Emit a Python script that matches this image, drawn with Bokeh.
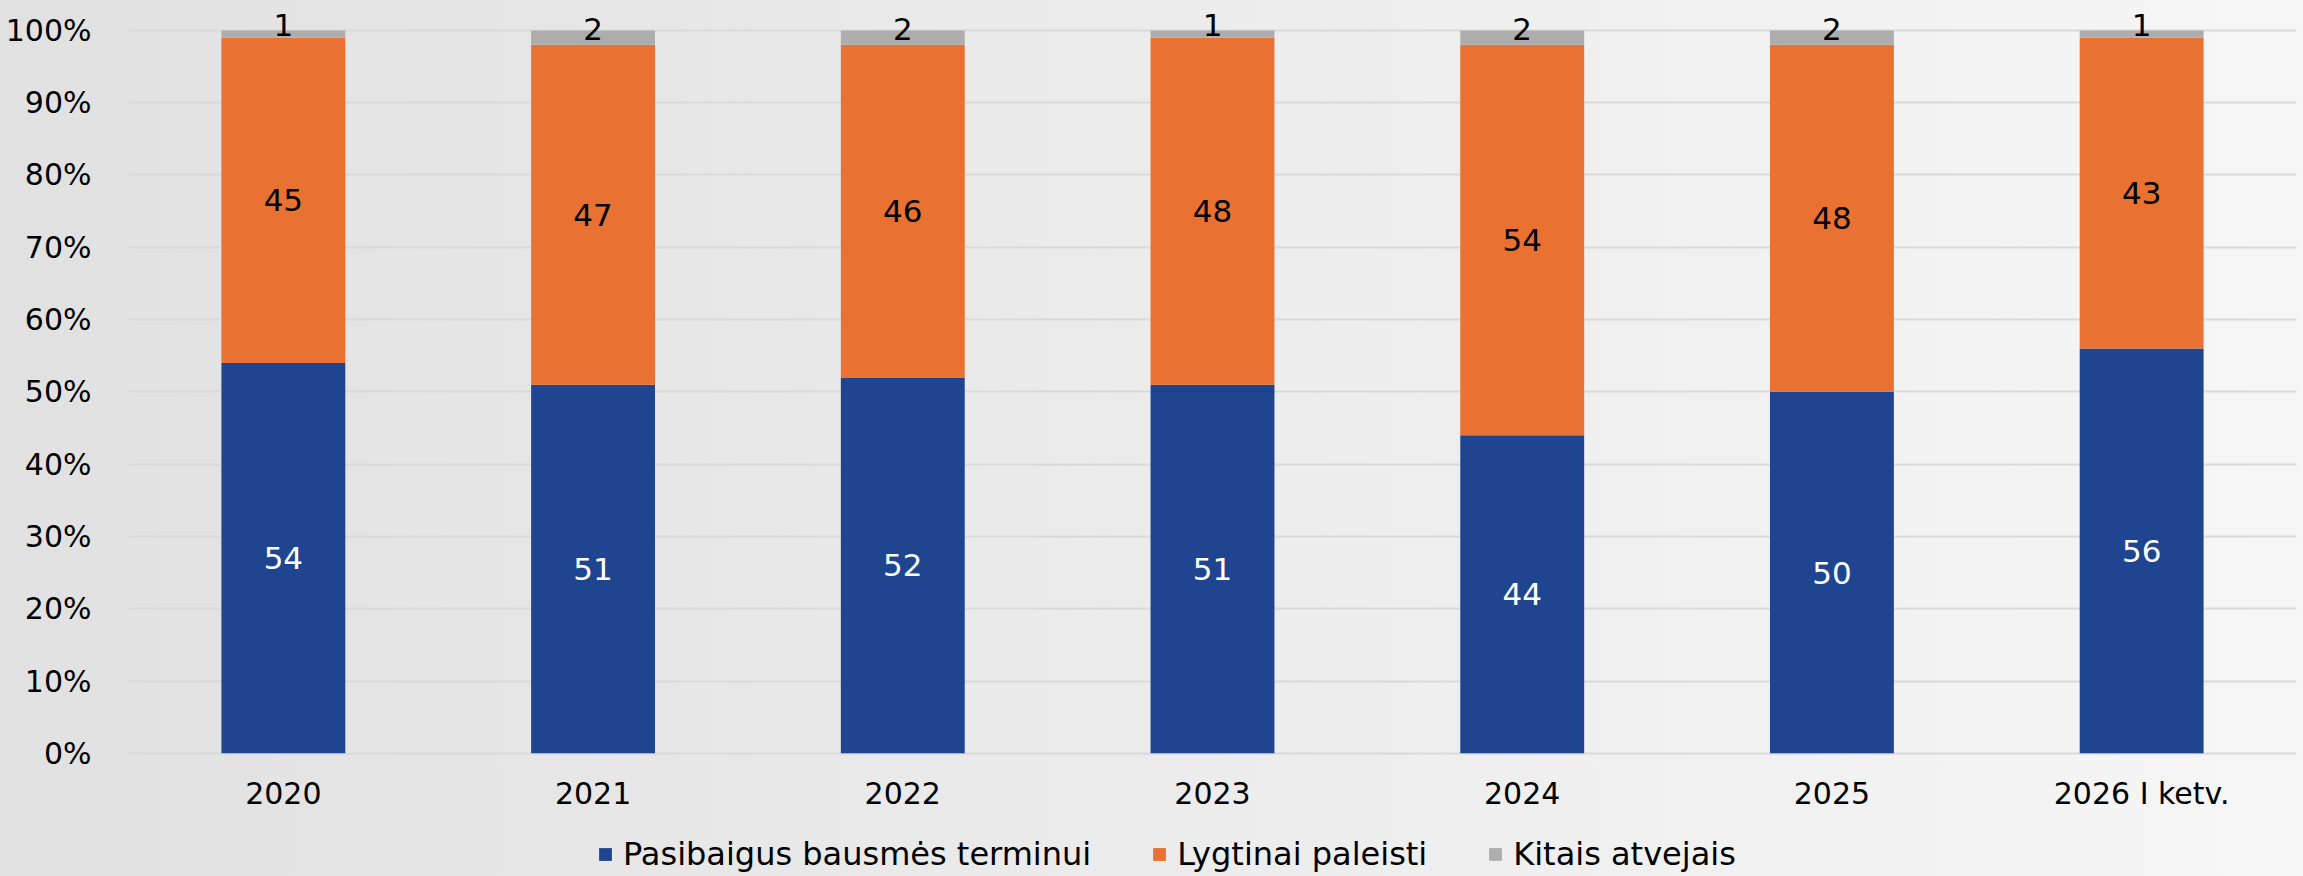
from bokeh.plotting import figure
from bokeh.models import ColumnDataSource, FactorRange, Range1d, LabelSet, Legend, LegendItem
from bokeh.embed import file_html
from bokeh.resources import INLINE
from bokeh.core.properties import value

categories = ["2020", "2021", "2022", "2023", "2024", "2025", "2026 I ketv."]
pasibaigus = [54, 51, 52, 51, 44, 50, 56]
lygtinai = [45, 47, 46, 48, 54, 48, 43]
kitais = [1, 2, 2, 1, 2, 2, 1]
series_names = ["Pasibaigus bausmės terminui", "Lygtinai paleisti", "Kitais atvejais"]
series_colors = ["#1F4590", "#E97132", "#ADADAD"]
label_colors = ["white", "black", "black"]
label_offsets = [0, 0, 9]
y_ticks = [0, 10, 20, 30, 40, 50, 60, 70, 80, 90, 100]
y_tick_labels = [f"{t}%" for t in y_ticks]

FONT = "DejaVu Sans"

series = [pasibaigus, lygtinai, kitais]
keys = ["s0", "s1", "s2"]
data = {"cat": categories}
for k, s in zip(keys, series):
    data[k] = s
src = ColumnDataSource(data)

# frame spans the full height so that the category labels and legend
# (drawn inside it, below the zero line) are not clipped
p = figure(
    width=2300, height=876,
    x_range=FactorRange(*categories), y_range=Range1d(-16.9, 104),
    output_backend="svg", toolbar_location=None,
    min_border_left=128, min_border_right=4, min_border_top=1, min_border_bottom=1,
    background_fill_color=None, border_fill_color=None, outline_line_color=None,
)
p.xaxis.visible = False

renderers = p.vbar_stack(keys, x="cat", width=0.4, color=series_colors, line_color=None, source=src)

# data labels, centred in each segment
bottoms = [0] * len(categories)
for s, col, off in zip(series, label_colors, label_offsets):
    mids = [b + v / 2 for b, v in zip(bottoms, s)]
    lsrc = ColumnDataSource({"cat": categories, "y": mids, "t": [str(v) for v in s]})
    p.add_layout(LabelSet(x="cat", y="y", text="t", source=lsrc, y_offset=off,
                          text_align="center", text_baseline="middle",
                          text_font=value(FONT), text_font_size="31px", text_color=col))
    bottoms = [b + v for b, v in zip(bottoms, s)]

# category labels under the zero line
csrc = ColumnDataSource({"cat": categories, "y": [0] * len(categories)})
p.add_layout(LabelSet(x="cat", y="y", text="cat", source=csrc, y_offset=-40,
                      text_align="center", text_baseline="middle",
                      text_font=value(FONT), text_font_size="30px", text_color="#000000"))

# y axis
p.yaxis.ticker = y_ticks
p.yaxis.major_label_overrides = {t: l for t, l in zip(y_ticks, y_tick_labels)}
p.yaxis.axis_line_color = None
p.yaxis.major_tick_line_color = None
p.yaxis.minor_tick_line_color = None
p.yaxis.major_label_standoff = 31
p.yaxis.major_label_text_font = FONT
p.yaxis.major_label_text_font_size = "30px"
p.yaxis.major_label_text_color = "#000000"

p.xgrid.grid_line_color = None
p.ygrid.ticker = y_ticks
p.ygrid.grid_line_color = "#D9D9D9"
p.ygrid.grid_line_width = 2

legend = Legend(
    items=[LegendItem(label=n, renderers=[r]) for n, r in zip(series_names, renderers)],
    orientation="horizontal", location=(469, 2),
    glyph_width=16, glyph_height=16, label_standoff=10, spacing=60,
    padding=0, margin=0, background_fill_alpha=0, border_line_color=None,
    label_text_font=FONT, label_text_font_size="32px", label_text_color="#000000",
)
p.add_layout(legend, "center")

html = file_html(p, INLINE)
html = html.replace("</head>", "<style>html{min-height:100%;background:linear-gradient(90deg,#e1e1e1 0%,#f6f6f6 100%);}body{background:transparent;}</style></head>", 1)
open("out.html", "w").write(html)
